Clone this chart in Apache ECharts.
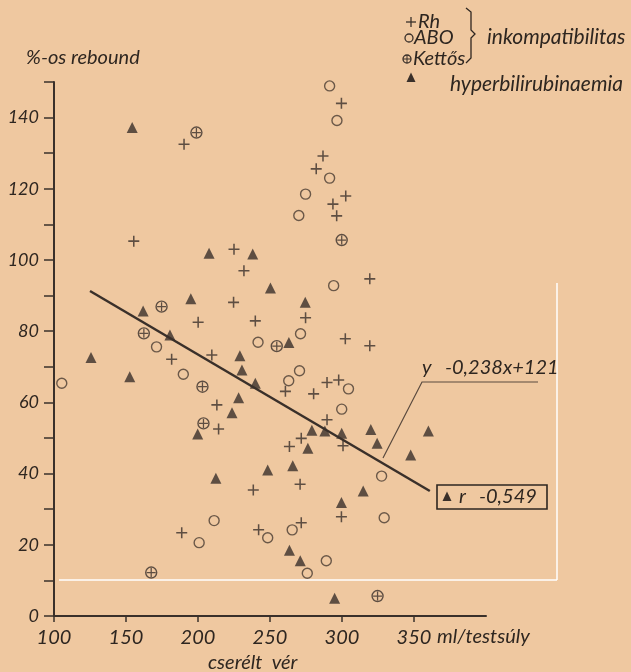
<!DOCTYPE html>
<html>
<head>
<meta charset="utf-8">
<script src="https://cdn.jsdelivr.net/npm/echarts@6/dist/echarts.min.js"></script>
<style>
  html, body { margin: 0; padding: 0; background: #efc8a0; }
  #chart { width: 631px; height: 672px; }
</style>
</head>
<body>
<div id="chart"></div>
<script>
// cserélt vér (ml/testsúly), % rebound
var rhData = [
  [155.4,105.3],[190.3,132.5],[225,103],[231.9,97],[286.8,129.2],[282.1,125.6],
  [299.6,144],[302.6,118],[293.7,115.7],[296.3,112.4],[319.3,94.7],[224.7,88.1],
  [200.1,82.5],[239.8,82.9],[274.7,83.8],[302.3,77.9],[319.3,75.9],[209.6,73.3],
  [181.7,72.1],[289.6,65.6],[297.7,66.3],[260.7,63.1],[280.3,62.4],[213.1,59.3],
  [289.6,55.1],[214.3,52.5],[271.7,49.9],[263.5,47.6],[300.7,47.8],[270.9,37],
  [238.4,35.4],[299.6,27.9],[271.7,26.2],[242.1,24.2],[188.7,23.4]
];
var aboData = [
  [291.4,148.9],[296.5,139.2],[291.4,123],[274.7,118.5],[270,112.5],[294.2,92.8],
  [271.2,79.3],[241.7,76.9],[171.2,75.6],[105.4,65.4],[189.8,67.9],[270.5,68.9],
  [263,66.1],[304.5,63.8],[299.8,58.1],[327.5,39.3],[329.3,27.6],[265.4,24.2],
  [211.2,26.8],[200.8,20.6],[248.4,22],[289.1,15.5],[275.9,12]
];
var kettosData = [
  [198.9,135.8],[299.8,105.6],[174.7,86.9],[162.4,79.4],[203.1,64.4],[203.8,54.1],
  [254.7,75.8],[167.5,12.2],[324.7,5.6]
];
var hyperData = [
  [154.3,137.2],[207.7,101.9],[238,101.7],[161.9,85.7],[195,89.1],[250.3,92.1],
  [274.5,88.1],[180.5,78.9],[263.1,76.8],[229.1,73.1],[125.7,72.6],[152.6,67.2],
  [230.5,69.1],[239.8,65.4],[228.2,61.3],[223.6,57.1],[199.8,51.1],[279.1,52.2],
  [288.1,52],[299.8,51.3],[320,52.4],[360,52],[324.4,48.5],[347.7,45.2],
  [276.3,47.1],[265.8,42.2],[248.4,41],[212.4,38.7],[314.7,35.1],[299.6,31.9],
  [263.5,18.5],[271,15.5],[294.9,5]
];
// regressziós egyenes végpontjai (y = -0,238x + 121)
var regLine = [[125, 91.3], [361, 35.1]];

var xTicks = [100, 150, 200, 250, 300, 350];
var yTicks = [0,10,20,30,40,50,60,70,80,90,100,110,120,130,140,150];
var yLabels = [0, 20, 40, 60, 80, 100, 120, 140];

var ink = '#3a302a';
var txt = '#2e2620';
var fnt = 'Lato, "Open Sans", sans-serif';
var plusPath = 'path://M0,4.3H10V5.7H0Z M4.3,0H5.7V10H4.3Z';

var chart = echarts.init(document.getElementById('chart'));

function tx(x, y, text, size) {
  return {
    type: 'text', x: x, y: y,
    style: { text: text, fill: txt, font: 'italic ' + size + 'px ' + fnt, align: 'left', verticalAlign: 'middle' }
  };
}
function ring(cx, cy, r) {
  return { type: 'circle', shape: { cx: cx, cy: cy, r: r }, style: { fill: null, stroke: ink, lineWidth: 1.3 } };
}
function cross(cx, cy, h, w) {
  return { type: 'polyline', shape: { points: [[cx - h, cy], [cx + h, cy]] }, style: { stroke: ink, lineWidth: w } };
}
function crossV(cx, cy, h, w) {
  return { type: 'polyline', shape: { points: [[cx, cy - h], [cx, cy + h]] }, style: { stroke: ink, lineWidth: w } };
}
function tri(cx, cy, s) {
  return { type: 'polygon', shape: { points: [[cx, cy - s * 0.6], [cx + s / 2, cy + s * 0.45], [cx - s / 2, cy + s * 0.45]] }, style: { fill: ink } };
}

var option = {
  backgroundColor: '#efc8a0',
  animation: false,
  grid: { left: 54, right: 145, top: 82, bottom: 56 },
  xAxis: {
    type: 'value', min: 100, max: 400,
    axisLine: { lineStyle: { color: ink, width: 2 } },
    axisTick: { customValues: xTicks, length: 6, lineStyle: { color: ink, width: 1.5 } },
    axisLabel: {
      customValues: xTicks, margin: 12, color: txt,
      fontFamily: fnt, fontStyle: 'italic', fontSize: 20
    },
    splitLine: { show: false }
  },
  yAxis: {
    type: 'value', min: 0, max: 150,
    axisLine: { show: true, lineStyle: { color: ink, width: 2 } },
    axisTick: { show: true, customValues: yTicks, length: 10, lineStyle: { color: ink, width: 1.5 } },
    axisLabel: {
      customValues: yLabels, margin: 15, color: txt,
      fontFamily: fnt, fontStyle: 'italic', fontSize: 18
    },
    splitLine: { show: false }
  },
  series: [
    {
      name: 'Rh', type: 'scatter', data: rhData, symbol: plusPath, symbolSize: 11,
      itemStyle: { color: ink }
    },
    {
      name: 'ABO', type: 'scatter', data: aboData, symbol: 'circle', symbolSize: 10,
      itemStyle: { color: 'rgba(0,0,0,0)', borderColor: '#4a3c32', borderWidth: 1.4 }
    },
    {
      name: 'Kettős', type: 'scatter', data: kettosData, symbol: 'circle', symbolSize: 11,
      itemStyle: { color: 'rgba(0,0,0,0)', borderColor: ink, borderWidth: 1.4 }
    },
    {
      name: 'Kettős+', type: 'scatter', data: kettosData, symbol: plusPath, symbolSize: 9,
      itemStyle: { color: ink }
    },
    {
      name: 'hyperbilirubinaemia', type: 'scatter', data: hyperData, symbol: 'triangle', symbolSize: 11,
      itemStyle: { color: ink }
    },
    {
      type: 'line', data: regLine, showSymbol: false, symbol: 'none',
      lineStyle: { color: ink, width: 2.5 }, z: 1
    }
  ],
  graphic: [
    // fehér szkennelési csík
    { type: 'line', shape: { x1: 59, y1: 580, x2: 557, y2: 580 }, style: { stroke: '#ffffff', lineWidth: 1.5 }, z: 0 },
    { type: 'line', shape: { x1: 557, y1: 283, x2: 557, y2: 580 }, style: { stroke: '#ffffff', lineWidth: 1.5 }, z: 0 },
    tx(26, 58, '%-os rebound', 20),
    tx(208, 663, 'cserélt  vér', 20),
    tx(437, 637, 'ml/testsúly', 20),
    // jelmagyarázat
    cross(411, 22, 5, 1.3), crossV(411, 22, 5, 1.3),
    tx(418, 22, 'Rh', 20),
    ring(409, 38, 4),
    tx(414, 38, 'ABO', 20),
    ring(407, 59, 4), cross(407, 59, 4, 1), crossV(407, 59, 4, 1),
    tx(413, 59, 'Kettős', 20),
    tri(411, 78, 9),
    tx(450, 84, 'hyperbilirubinaemia', 21),
    tx(487, 37, 'inkompatibilitas', 21),
    {
      type: 'polyline',
      shape: { points: [[466, 8], [471, 12], [471, 30], [475, 34], [471, 38], [471, 58], [466, 63]] },
      style: { stroke: txt, lineWidth: 1.3, fill: null }
    },
    // egyenlet
    { type: 'polyline', shape: { points: [[383, 458], [422, 382], [538, 382]] }, style: { stroke: '#5a4a3e', lineWidth: 1.2, fill: null } },
    tx(422, 368, 'y', 20),
    tx(445, 368, '-0,238x+121', 20),
    { type: 'rect', shape: { x: 437, y: 485, width: 110, height: 24 }, style: { stroke: txt, lineWidth: 1.6, fill: null } },
    tri(447, 497, 9),
    tx(459, 497, 'r', 20),
    tx(479, 497, '-0,549', 20)
  ]
};

chart.setOption(option);
</script>
</body>
</html>
